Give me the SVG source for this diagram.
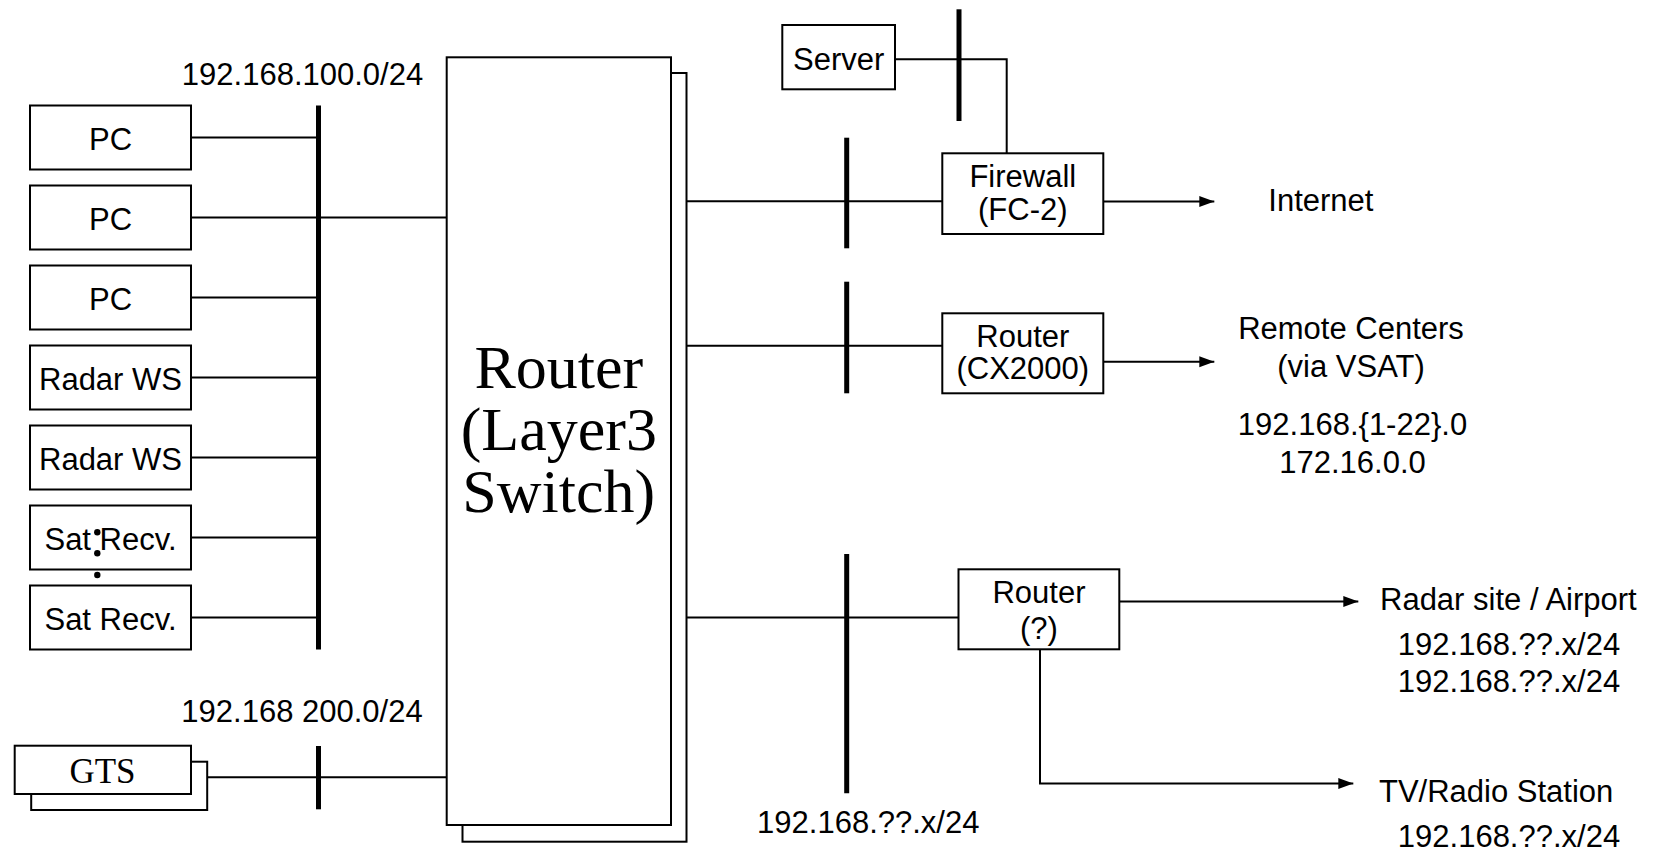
<svg xmlns="http://www.w3.org/2000/svg" width="1659" height="854" viewBox="0 0 1659 854">
<defs>
<style>
.box{fill:#fff;stroke:#000;stroke-width:2}
.ln{fill:none;stroke:#000;stroke-width:2}
.bus{fill:none;stroke:#000;stroke-width:5}
.t{font-family:"Liberation Sans",Arial,sans-serif;font-size:31px;fill:#000}
.m{text-anchor:middle}
.s{font-family:"Liberation Serif","Times New Roman",serif;fill:#000;text-anchor:middle}
</style>
<marker id="ah" markerUnits="userSpaceOnUse" markerWidth="16" markerHeight="12" refX="15" refY="6" orient="auto">
<path d="M0,0.5 L15,6 L0,11.5 Z" fill="#000"/>
</marker>
</defs>
<rect width="1659" height="854" fill="#fff"/>

<g id="connectors">
<line class="ln" x1="191" y1="137.5" x2="318.5" y2="137.5"/>
<line class="ln" x1="191" y1="217.5" x2="446.7" y2="217.5"/>
<line class="ln" x1="191" y1="297.5" x2="318.5" y2="297.5"/>
<line class="ln" x1="191" y1="377.5" x2="318.5" y2="377.5"/>
<line class="ln" x1="191" y1="457.5" x2="318.5" y2="457.5"/>
<line class="ln" x1="191" y1="537.5" x2="318.5" y2="537.5"/>
<line class="ln" x1="191" y1="617.5" x2="318.5" y2="617.5"/>
<line class="ln" x1="191" y1="777.3" x2="446.7" y2="777.3"/>
<line class="ln" x1="671" y1="201.3" x2="942.3" y2="201.3"/>
<line class="ln" x1="671" y1="345.7" x2="942.3" y2="345.7"/>
<line class="ln" x1="671" y1="617.5" x2="958.5" y2="617.5"/>
<polyline class="ln" points="895,59.3 1006.7,59.3 1006.7,153.3"/>
<line class="ln" x1="1103.3" y1="201.5" x2="1214.3" y2="201.5" marker-end="url(#ah)"/>
<line class="ln" x1="1103.3" y1="361.7" x2="1214.3" y2="361.7" marker-end="url(#ah)"/>
<line class="ln" x1="1119.3" y1="601.5" x2="1358.3" y2="601.5" marker-end="url(#ah)"/>
<polyline class="ln" points="1040,649.3 1040,783.5 1353.3,783.5" marker-end="url(#ah)"/>
</g>

<g id="buses">
<line class="bus" x1="318.5" y1="105.5" x2="318.5" y2="649.5"/>
<line class="bus" x1="318.5" y1="746" x2="318.5" y2="809.3"/>
<line class="bus" x1="846.7" y1="137.7" x2="846.7" y2="248.3"/>
<line class="bus" x1="846.7" y1="281.7" x2="846.7" y2="393.3"/>
<line class="bus" x1="846.7" y1="554" x2="846.7" y2="793.3"/>
<line class="bus" x1="959" y1="9.3" x2="959" y2="121"/>
</g>

<g id="pc1"><rect class="box" x="30" y="105.5" width="161" height="64"/><text class="t m" x="110.5" y="149.5">PC</text></g>
<g id="pc2"><rect class="box" x="30" y="185.5" width="161" height="64"/><text class="t m" x="110.5" y="229.5">PC</text></g>
<g id="pc3"><rect class="box" x="30" y="265.5" width="161" height="64"/><text class="t m" x="110.5" y="309.5">PC</text></g>
<g id="radar1"><rect class="box" x="30" y="345.5" width="161" height="64"/><text class="t m" x="110.5" y="389.5">Radar WS</text></g>
<g id="radar2"><rect class="box" x="30" y="425.5" width="161" height="64"/><text class="t m" x="110.5" y="469.5">Radar WS</text></g>
<g id="sat1"><rect class="box" x="30" y="505.5" width="161" height="64"/><text class="t m" x="110.5" y="549.5">Sat Recv.</text></g>
<g id="sat2"><rect class="box" x="30" y="585.5" width="161" height="64"/><text class="t m" x="110.5" y="629.5">Sat Recv.</text></g>
<g id="ellipsis"><circle cx="97.3" cy="532.3" r="3.2"/><circle cx="97.3" cy="553.3" r="3.2"/><circle cx="97.3" cy="575" r="3.2"/></g>

<g id="gts">
<rect class="box" x="31.2" y="761.7" width="176" height="48.3"/>
<rect class="box" x="14.7" y="745.7" width="176.3" height="48.3"/>
<text class="s" x="102.5" y="783" font-size="35">GTS</text>
</g>

<g id="router-l3">
<rect class="box" x="462.5" y="73" width="224" height="768.7"/>
<rect class="box" x="446.7" y="57.3" width="224.3" height="767.7"/>
<text class="s" x="558.8" y="388" font-size="62">Router</text>
<text class="s" x="558.8" y="450" font-size="62">(Layer3</text>
<text class="s" x="558.8" y="512" font-size="62">Switch)</text>
</g>

<g id="server"><rect class="box" x="782.3" y="25" width="112.7" height="64.3"/><text class="t m" x="838.7" y="70">Server</text></g>
<g id="firewall"><rect class="box" x="942.3" y="153.3" width="161" height="80.7"/><text class="t m" x="1022.8" y="187">Firewall</text><text class="t m" x="1022.8" y="220">(FC-2)</text></g>
<g id="router-cx"><rect class="box" x="942.3" y="313.3" width="161" height="80"/><text class="t m" x="1022.8" y="346.7">Router</text><text class="t m" x="1022.8" y="379">(CX2000)</text></g>
<g id="router-q"><rect class="box" x="958.5" y="569.3" width="160.8" height="80"/><text class="t m" x="1039" y="602.7">Router</text><text class="t m" x="1039" y="639">(?)</text></g>

<g id="labels">
<text class="t m" x="302.5" y="84.5">192.168.100.0/24</text>
<text class="t m" x="302" y="722.3">192.168 200.0/24</text>
<text class="t m" x="868.3" y="833.3">192.168.??.x/24</text>
<text class="t" x="1268.3" y="210.7">Internet</text>
<text class="t m" x="1351" y="339.3">Remote Centers</text>
<text class="t m" x="1351" y="376.7">(via VSAT)</text>
<text class="t m" x="1352.5" y="435">192.168.{1-22}.0</text>
<text class="t m" x="1352.5" y="472.7">172.16.0.0</text>
<text class="t" x="1380" y="610">Radar site / Airport</text>
<text class="t m" x="1509" y="654.5">192.168.??.x/24</text>
<text class="t m" x="1509" y="692">192.168.??.x/24</text>
<text class="t" x="1379" y="801.7">TV/Radio Station</text>
<text class="t m" x="1509" y="847">192.168.??.x/24</text>
</g>
</svg>
